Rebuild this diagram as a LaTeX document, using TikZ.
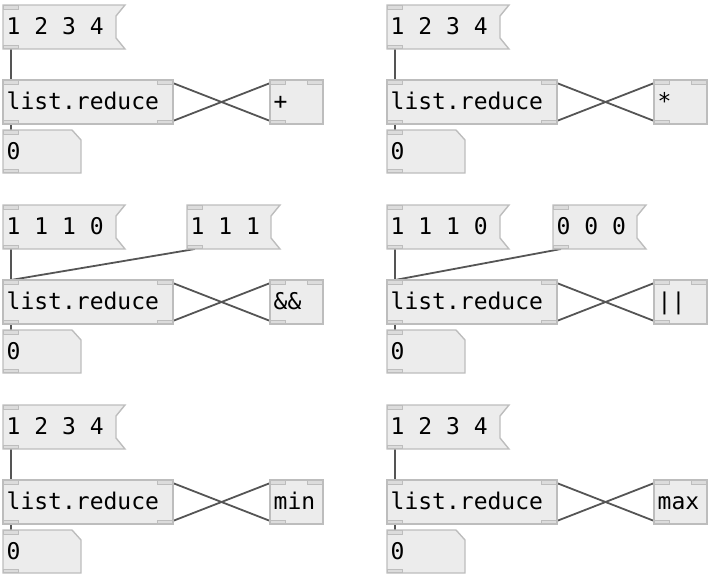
\documentclass[tikz,border=0pt]{standalone}
\usepackage{fontspec}
\newfontfamily\pdfont{DejaVu Sans Mono}
\usetikzlibrary{backgrounds}

\definecolor{boxline}{HTML}{BDBDBD}
\definecolor{boxfill}{HTML}{ECECEC}
\definecolor{iofill}{HTML}{DCDCDC}
\definecolor{cordcol}{HTML}{555555}

\tikzset{
	pdbox/.style={draw=boxline, fill=boxfill, line width=1.4pt, line join=miter},
	pdtext/.style={font=\pdfont\fontsize{23}{23}\selectfont, anchor=base west, inner sep=0pt},
	iolet/.style={rectangle, draw=boxline, fill=iofill, line width=0.9pt, inner sep=0pt, minimum width=15pt, minimum height=3.5pt},
	cord/.style={draw=cordcol, line width=1.8pt},
}

% message box: name, x, y, width, text
\newcommand{\msgbox}[5]{%
	\filldraw[pdbox] (#2,#3) -- ++(#4,0) -- ++(-9,11) -- ++(0,22) -- ++(9,11) -- ++(-#4,0) -- cycle;
	\node[pdtext] (#1) at (#2+3.5,#3+29.5) {#5};
	\node[iolet, anchor=north west] (#1-in) at (#2,#3) {};
	\node[iolet, anchor=south west] (#1-out) at (#2,#3+44) {};
}
% object box: name, x, y, width, text
\newcommand{\objbox}[5]{%
	\filldraw[pdbox] (#2,#3) rectangle ++(#4,44);
	\node[pdtext] (#1) at (#2+3.5,#3+29.5) {#5};
	\node[iolet, anchor=north west] (#1-in0) at (#2,#3) {};
	\node[iolet, anchor=north east] (#1-in1) at (#2+#4,#3) {};
	\node[iolet, anchor=south west] (#1-out0) at (#2,#3+44) {};
}
\newcommand{\reducebox}[3]{%
	\objbox{#1}{#2}{#3}{170}{list.reduce}
	\node[iolet, anchor=south east] (#1-out1) at (#2+170,#3+44) {};
}
% number box: name, x, y, text
\newcommand{\numbox}[4]{%
	\filldraw[pdbox] (#2,#3) -- ++(69,0) -- ++(9,10) -- ++(0,33) -- ++(-78,0) -- cycle;
	\node[pdtext] (#1) at (#2+3.5,#3+29.5) {#4};
	\node[iolet, anchor=north west] (#1-in) at (#2,#3) {};
	\node[iolet, anchor=south west] (#1-out) at (#2,#3+43) {};
}

\begin{document}
\begin{tikzpicture}[x=1pt,y=-1pt]
	\useasboundingbox (0,0) rectangle (712,576);
	% sum
	\msgbox{msgA}{3}{5}{122}{1 2 3 4}
	\reducebox{redA}{3}{80}
	\objbox{opA}{270}{80}{53}{+}
	\numbox{numA}{3}{130}{0}
	% product
	\msgbox{msgB}{387}{5}{122}{1 2 3 4}
	\reducebox{redB}{387}{80}
	\objbox{opB}{654}{80}{53}{*}
	\numbox{numB}{387}{130}{0}
	% and
	\msgbox{msgC}{3}{205}{122}{1 1 1 0}
	\msgbox{msgCC}{187}{205}{93}{1 1 1}
	\reducebox{redC}{3}{280}
	\objbox{opC}{270}{280}{53}{\&\&}
	\numbox{numC}{3}{330}{0}
	% or
	\msgbox{msgD}{387}{205}{122}{1 1 1 0}
	\msgbox{msgDD}{553}{205}{93}{0 0 0}
	\reducebox{redD}{387}{280}
	\objbox{opD}{654}{280}{53}{||}
	\numbox{numD}{387}{330}{0}
	% min
	\msgbox{msgE}{3}{405}{122}{1 2 3 4}
	\reducebox{redE}{3}{480}
	\objbox{opE}{270}{480}{53}{min}
	\numbox{numE}{3}{530}{0}
	% max
	\msgbox{msgF}{387}{405}{122}{1 2 3 4}
	\reducebox{redF}{387}{480}
	\objbox{opF}{654}{480}{53}{max}
	\numbox{numF}{387}{530}{0}

	\begin{scope}[on background layer]
		\foreach \g in {A,B,C,D,E,F}{
			\draw[cord] (msg\g-out.south) -- (red\g-in0.north);
			\draw[cord] (red\g-out0.south) -- (num\g-in.north);
			\draw[cord] (red\g-out1.south) -- (op\g-in0.north);
			\draw[cord] (op\g-out0.south) -- (red\g-in1.north);
		}
		\draw[cord] (msgCC-out.south) -- (redC-in0.north);
		\draw[cord] (msgDD-out.south) -- (redD-in0.north);
	\end{scope}
\end{tikzpicture}
\end{document}
